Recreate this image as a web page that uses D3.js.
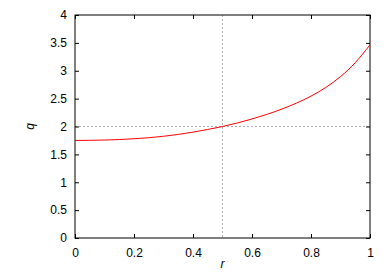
<!DOCTYPE html>
<html>
<head>
<meta charset="utf-8">
<script src="https://cdn.jsdelivr.net/npm/d3@7"></script>
<style>
  body { margin: 0; background: #fff; }
  text { font-family: "Liberation Sans", Arial, sans-serif; }
</style>
</head>
<body>
<div id="chart"></div>
<script>
// q as a function of r
const rValues = [0, 0.05, 0.1, 0.15, 0.2, 0.25, 0.3, 0.35, 0.4, 0.45, 0.5,
  0.55, 0.6, 0.65, 0.7, 0.75, 0.8, 0.85, 0.9, 0.95, 1.0];
const qValues = [1.75, 1.752, 1.757, 1.766, 1.78, 1.799, 1.825, 1.858, 1.899, 1.947, 2.0,
  2.063, 2.135, 2.217, 2.31, 2.418, 2.545, 2.70, 2.895, 3.145, 3.465];

const xTicks = [0, 0.2, 0.4, 0.6, 0.8, 1];
const yTicks = [0, 0.5, 1, 1.5, 2, 2.5, 3, 3.5, 4];
const refX = 0.5;
const refY = 2;

const svgWidth = 390;
const svgHeight = 273;
const margin = { top: 15, right: 20, bottom: 35, left: 75 };
const width = svgWidth - margin.left - margin.right;
const height = svgHeight - margin.top - margin.bottom;

const svg = d3.select('#chart')
  .append('svg')
  .attr('width', svgWidth)
  .attr('height', svgHeight);

const chartGroup = svg.append('g')
  .attr('transform', `translate(${margin.left}, ${margin.top})`);

const xScale = d3.scaleLinear().domain([0, 1]).range([0, width]);
const yScale = d3.scaleLinear().domain([0, 4]).range([height, 0]);

// dotted reference lines
chartGroup.append('line')
  .attr('x1', 0).attr('x2', width)
  .attr('y1', yScale(refY)).attr('y2', yScale(refY))
  .attr('stroke', '#b0b0b0').attr('stroke-width', 1)
  .attr('stroke-dasharray', '2,2');

chartGroup.append('line')
  .attr('x1', xScale(refX)).attr('x2', xScale(refX))
  .attr('y1', 0).attr('y2', height)
  .attr('stroke', '#b0b0b0').attr('stroke-width', 1)
  .attr('stroke-dasharray', '2,2');

// axes with inward ticks, mirrored on top and right
const tickLen = 4;
const bottomAxis = d3.axisBottom(xScale).tickValues(xTicks).tickSizeInner(-tickLen).tickSizeOuter(0)
  .tickPadding(10).tickFormat(d3.format('~g'));
const leftAxis = d3.axisLeft(yScale).tickValues(yTicks).tickSizeInner(-tickLen).tickSizeOuter(0)
  .tickPadding(8).tickFormat(d3.format('~g'));
const topAxis = d3.axisTop(xScale).tickValues(xTicks).tickSizeInner(-tickLen).tickSizeOuter(0).tickFormat('');
const rightAxis = d3.axisRight(yScale).tickValues(yTicks).tickSizeInner(-tickLen).tickSizeOuter(0).tickFormat('');

chartGroup.append('g')
  .attr('transform', `translate(0, ${height})`)
  .call(bottomAxis);
chartGroup.append('g').call(leftAxis);
chartGroup.append('g').call(topAxis);
chartGroup.append('g').attr('transform', `translate(${width}, 0)`).call(rightAxis);

chartGroup.selectAll('.domain').remove();
chartGroup.selectAll('.tick line').attr('stroke', '#000');
chartGroup.selectAll('.tick text')
  .attr('font-size', '12px')
  .attr('fill', '#000');

// border
chartGroup.append('rect')
  .attr('x', 0).attr('y', 0)
  .attr('width', width).attr('height', height)
  .attr('fill', 'none')
  .attr('stroke', '#000')
  .attr('stroke-width', 1);

// curve
const points = rValues.map((r, i) => ({ r: r, q: qValues[i] }));
const line = d3.line()
  .x(d => xScale(d.r))
  .y(d => yScale(d.q))
  .curve(d3.curveNatural);

chartGroup.append('path')
  .datum(points)
  .attr('d', line)
  .attr('fill', 'none')
  .attr('stroke', '#ff0000')
  .attr('stroke-width', 1);

// axis labels
svg.append('text')
  .attr('x', margin.left + xScale(0.5))
  .attr('y', 268)
  .attr('text-anchor', 'middle')
  .attr('font-size', '12px')
  .attr('font-style', 'italic')
  .text('r');

svg.append('text')
  .attr('transform', `translate(34, ${margin.top + yScale(2)}) rotate(-90)`)
  .attr('text-anchor', 'middle')
  .attr('font-size', '12px')
  .attr('font-style', 'italic')
  .text('q');
</script>
</body>
</html>
